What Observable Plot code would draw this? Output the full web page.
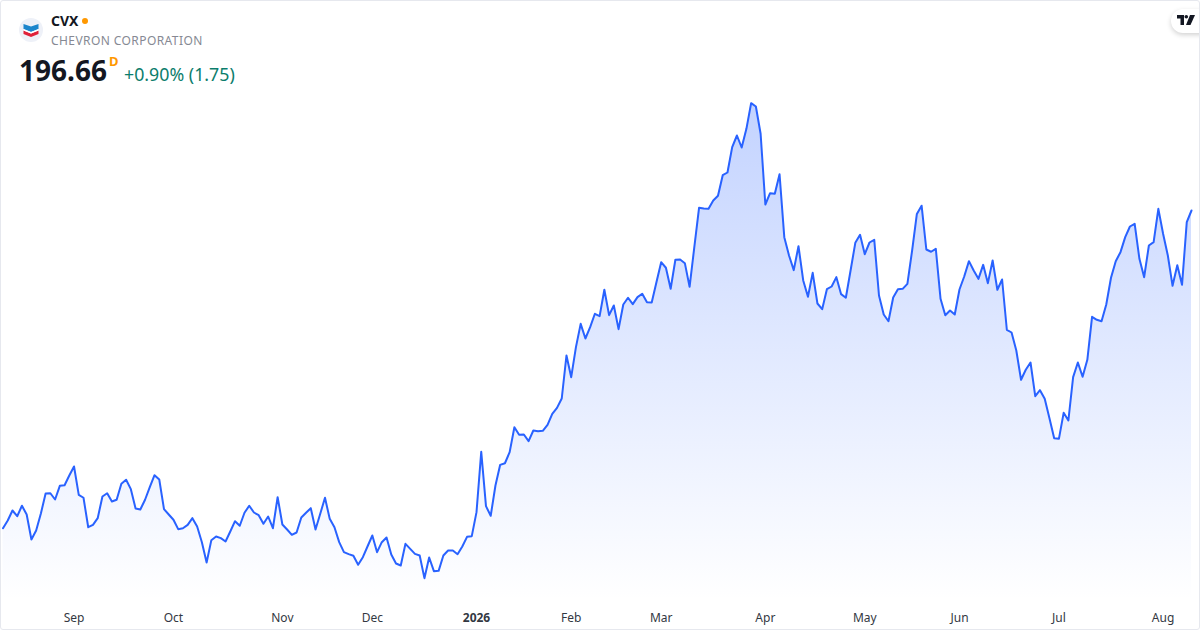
<!DOCTYPE html>
<html>
<head>
<meta charset="utf-8">
<script src="https://cdn.jsdelivr.net/npm/d3@7"></script>
<script src="https://cdn.jsdelivr.net/npm/@observablehq/plot@0.6"></script>
<style>
html,body{margin:0;padding:0;background:#fff;}
body{width:1200px;height:630px;overflow:hidden;font-family:"Noto Sans",sans-serif;}
#card{position:relative;width:1200px;height:630px;box-sizing:border-box;overflow:hidden;}
#card::after{content:"";position:absolute;inset:0;border:1px solid #e6e8ee;border-radius:3px;box-sizing:border-box;pointer-events:none;}
#chart{position:absolute;left:0;top:0;}
#chart svg{display:block;}
.t{position:absolute;white-space:nowrap;line-height:1;}
</style>
</head>
<body>
<div id="card">
  <div id="chart"></div>
  <svg class="t" style="left:19px;top:18px" width="24" height="24" viewBox="0 0 24 24">
    <circle cx="12" cy="12" r="12" fill="#eef1f8"/>
    <path d="M4.5 6 L12 8.5 L19.5 6 V11 L12 14 L4.5 11 Z" fill="#1c86cc"/>
    <path d="M4.5 12.5 L12 15.5 L19.5 12.5 V16 L12 19 L4.5 16 Z" fill="#e0213a"/>
    <path d="M4.5 11 L12 14 L19.5 11 V12.5 L12 15.5 L4.5 12.5 Z" fill="#ffffff"/>
  </svg>
  <div class="t" id="sym" style="left:51px;top:14px;font-size:14px;font-weight:700;color:#131722">CVX</div>
  <svg class="t" style="left:82px;top:18px" width="6" height="6"><circle cx="3" cy="3" r="3" fill="#ff9800"/></svg>
  <div class="t" id="nm" style="left:51px;top:35px;font-size:12px;color:#868993;letter-spacing:.42px">CHEVRON CORPORATION</div>
  <div class="t" id="px" style="left:19px;top:56px;font-size:28px;font-weight:700;color:#131722">196.66</div>
  <div class="t" id="res" style="left:109px;top:55px;font-size:13px;font-weight:700;color:#ff9800">D</div>
  <div class="t" id="chg" style="left:124px;top:66px;font-size:17.8px;color:#0b7d6c">+0.90% (1.75)</div>
  <div style="position:absolute;left:1171px;top:9px;width:50px;height:24px;border-radius:12px;background:#fff;box-shadow:0 2px 5px rgba(0,0,0,.18)"></div>
  <svg class="t" style="left:1177px;top:15px" width="18" height="11" viewBox="0 0 18 11">
    <path d="M0 0H7V10H3.5V3.5H0Z" fill="#131722"/>
    <circle cx="9.3" cy="1.8" r="1.8" fill="#131722"/>
    <path d="M13 0H18L13.5 10H9Z" fill="#131722"/>
  </svg>
</div>
<script>
const closes = [
149.00,150.16,151.66,150.80,152.37,151.06,147.31,148.66,151.21,154.21,154.25,153.31,155.36,155.45,156.91,158.26,
154.01,153.57,149.15,149.51,150.51,153.76,154.25,153.01,153.27,155.67,156.27,154.86,151.96,151.81,153.27,155.16,
156.96,156.31,151.86,151.06,150.27,148.86,149.00,149.51,150.51,149.26,146.91,143.86,147.21,147.76,147.51,147.01,
148.51,150.06,149.37,151.32,152.37,151.36,150.96,149.67,150.76,149.00,153.66,149.56,148.81,148.01,148.36,150.61,
151.32,152.01,148.81,151.17,153.57,150.41,149.15,146.91,145.41,145.11,144.87,143.52,144.66,146.30,147.91,145.41,
146.91,147.61,145.06,143.71,143.41,146.66,145.91,145.16,144.91,141.51,144.61,142.56,142.61,144.91,145.66,145.66,
145.11,146.26,147.71,147.81,151.41,160.47,152.31,150.87,155.41,158.51,158.75,160.41,164.15,163.01,163.06,162.06,
163.66,163.56,163.61,164.51,166.16,167.06,168.46,174.91,171.66,176.16,179.66,177.46,179.16,181.17,180.81,184.77,
180.96,182.41,178.86,182.56,183.57,182.61,183.66,184.17,182.91,182.86,185.91,188.91,188.07,184.91,189.27,189.31,
188.76,185.21,191.16,197.07,196.96,196.91,198.16,198.87,201.96,202.36,206.16,207.91,206.11,208.91,212.76,212.26,
208.17,197.56,199.25,199.17,202.10,192.66,189.91,187.71,191.31,186.16,183.72,187.31,182.71,181.86,184.86,185.26,
186.66,184.11,183.57,187.66,191.81,193.01,190.11,191.86,192.27,183.91,181.06,180.05,183.61,184.86,184.91,185.66,
190.66,196.14,197.38,190.81,190.47,190.91,183.41,180.96,181.66,181.06,184.81,186.76,189.06,187.66,186.41,188.51,
185.76,189.16,184.77,186.31,178.77,178.36,175.66,171.27,172.77,173.86,168.81,169.71,168.41,165.51,162.51,162.41,
166.31,165.16,171.66,173.86,171.72,174.27,180.71,180.26,180.05,182.56,186.57,189.06,190.41,192.66,194.26,194.67,
189.41,186.66,191.41,191.91,196.91,193.17,189.91,185.36,188.46,185.51,194.91,196.66
];
const sessions = closes.map((_, i) => i);
const monthTicks = [15, 36, 59, 78, 120, 139, 161, 182, 202, 223, 245];
const monthLabels = ["Sep", "Oct", "Nov", "Dec", "Feb", "Mar", "Apr", "May", "Jun", "Jul", "Aug"];
const yearTicks = [100];
const yearLabels = ["2026"];
const floorPrice = 138.16, ceilPrice = 228.16;

const rows = sessions.map((s, i) => ({s, close: closes[i]}));
const gradient = () => {
  const defs = d3.create("svg:defs");
  const g = defs.append("linearGradient").attr("id", "fade").attr("x1", 0).attr("x2", 0).attr("y1", 0).attr("y2", 1);
  g.append("stop").attr("offset", "0%").attr("stop-color", "#2962ff").attr("stop-opacity", 0.28);
  g.append("stop").attr("offset", "100%").attr("stop-color", "#2962ff").attr("stop-opacity", 0);
  return defs.node();
};
const label = (ticks, labels) => d => labels[ticks.indexOf(d)];
const plot = Plot.plot({
  width: 1200, height: 630,
  marginLeft: 2.5, marginRight: 9, marginTop: 0, marginBottom: 30,
  style: {background: "transparent", fontFamily: '"Noto Sans",sans-serif'},
  x: {domain: [0, 251]},
  y: {domain: [floorPrice, ceilPrice], range: [600, 0], axis: null},
  marks: [
    gradient,
    Plot.areaY(rows, {x: "s", y1: floorPrice, y2: "close", fill: "url(#fade)", curve: "linear"}),
    Plot.lineY(rows, {x: "s", y: "close", stroke: "#2962ff", strokeWidth: 2, strokeLinejoin: "round", curve: "linear"}),
    Plot.axisX({anchor: "bottom", ticks: monthTicks, tickFormat: label(monthTicks, monthLabels), tickSize: 0, tickPadding: 13, fontSize: 12, fill: "#333842", label: null}),
    Plot.axisX({anchor: "bottom", ticks: yearTicks, tickFormat: label(yearTicks, yearLabels), tickSize: 0, tickPadding: 13, fontSize: 12, fontWeight: 700, fill: "#333842", label: null})
  ]
});
document.getElementById("chart").appendChild(plot);
</script>
</body>
</html>
